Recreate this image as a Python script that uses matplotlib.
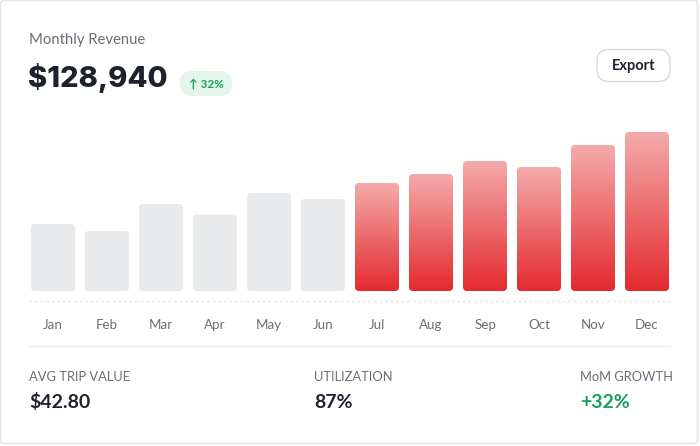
import numpy as np
import matplotlib
matplotlib.use("Agg")
import matplotlib.pyplot as plt
from matplotlib.patches import FancyBboxPatch
from matplotlib.colors import LinearSegmentedColormap

months = ["Jan", "Feb", "Mar", "Apr", "May", "Jun",
          "Jul", "Aug", "Sep", "Oct", "Nov", "Dec"]
revenue = [67, 60, 87, 76.5, 98, 92, 108, 117, 130, 124, 146, 159]
highlight = [False] * 6 + [True] * 6

title = "Monthly Revenue"
total = "$128,940"
badge = "↑ 32%"
stat_labels = ["AVG TRIP VALUE", "UTILIZATION", "MoM GROWTH"]
stat_values = ["$42.80", "87%", "+32%"]

FONT = ["Lato", "DejaVu Sans"]
DARK = "#1e222d"
GRAY = "#6b6e76"
GREEN = "#1a9e5c"

W, H = 700, 446
fig = plt.figure(figsize=(W / 100, H / 100), dpi=100, facecolor="white")

# full-figure overlay in pixel coords for the card chrome and text
ov = fig.add_axes([0, 0, 1, 1])
ov.set_xlim(0, W)
ov.set_ylim(H, 0)
ov.axis("off")

ov.add_patch(FancyBboxPatch((0.5, 0.5), 697, 443, boxstyle="round,pad=0,rounding_size=4",
                            fc="white", ec="#e6e6e6", lw=1.2))

ov.text(29, 40, title, fontsize=10.7, color=GRAY, family=FONT, va="center")
ov.text(28, 78, total, fontsize=21, color=DARK, family=["Inter", "DejaVu Sans"],
        weight="heavy", va="center")

ov.add_patch(FancyBboxPatch((180, 71), 52, 25, boxstyle="round,pad=0,rounding_size=12.5",
                            fc="#e4f6ec", ec="none"))
ov.text(206, 84, badge, fontsize=8.4, color=GREEN, family=FONT, weight="bold",
        ha="center", va="center")

ov.add_patch(FancyBboxPatch((597, 49.5), 73, 32, boxstyle="round,pad=0,rounding_size=12",
                            fc="white", ec="#d9d9dc", lw=1))
ov.text(633.5, 66, "Export", fontsize=10.5, color=DARK, family=FONT, weight="bold",
        ha="center", va="center")

ov.plot([29, 670], [301, 301], color="#e6e7ea", lw=1, linestyle=(0, (2, 2)))
ov.plot([29, 670], [345.5, 345.5], color="#ececee", lw=1)

for x, lab, val in zip([29, 314, 580], stat_labels, stat_values):
    ov.text(x, 377, lab, fontsize=9.3, color=GRAY, family=FONT, va="center")
    ov.text(x, 402, val, fontsize=14, color=GREEN if val.startswith("+") else DARK,
            family=FONT, weight="bold", va="center")

# bar chart
ax = fig.add_axes([26 / W, (H - 291) / H, 648 / W, 170 / H])
ax.set_xlim(-0.5, 11.5)
ax.set_ylim(0, 170)
ax.patch.set_visible(False)
for s in ax.spines.values():
    s.set_visible(False)
ax.set_yticks([])
ax.set_xticks(range(12))
ax.set_xticklabels(months, fontsize=9.6, color=GRAY, family=FONT)
ax.tick_params(axis="x", length=0, pad=20)

red = LinearSegmentedColormap.from_list("red", ["#e42a2e", "#f4abab"])
grad = np.linspace(0, 1, 256).reshape(-1, 1)

bw = 44 / 54
rects = ax.bar(range(12), revenue, width=bw, color="none")
for r, hi in zip(rects, highlight):
    x0, w, h = r.get_x(), r.get_width(), r.get_height()
    box = FancyBboxPatch((x0, 0), w, h, boxstyle="round,pad=0,rounding_size=%f" % (4 / 54),
                         mutation_aspect=54, fc="#e8e9eb" if not hi else "none", ec="none")
    ax.add_patch(box)
    if hi:
        im = ax.imshow(grad, cmap=red, origin="lower", aspect="auto",
                       extent=(x0, x0 + w, 0, h), interpolation="bilinear")
        im.set_clip_path(box)
    r.remove()

ax.set_xlim(-0.5, 11.5)
ax.set_ylim(0, 170)

fig.savefig("out.png", dpi=100, facecolor="white")
